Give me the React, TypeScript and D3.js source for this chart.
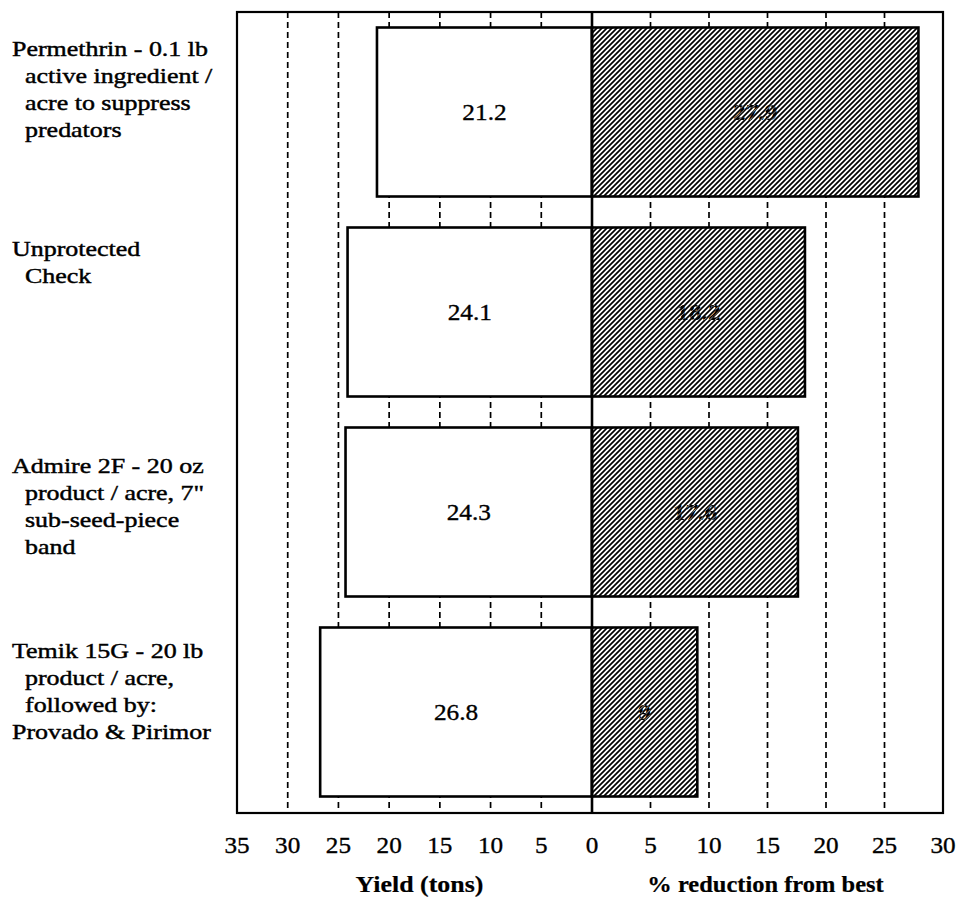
import React from "react";
import * as d3 from "d3";

const categories = [
  "Permethrin - 0.1 lb|  active ingredient /|  acre to suppress|  predators",
  "Unprotected|  Check",
  "Admire 2F - 20 oz|  product / acre, 7\"|  sub-seed-piece|  band",
  "Temik 15G - 20 lb|  product / acre,|  followed by:|Provado & Pirimor",
];
const yieldTons = [21.2, 24.1, 24.3, 26.8];
const pctReduction = [27.9, 18.2, 17.6, 9];
const yieldTicks = [35, 30, 25, 20, 15, 10, 5, 0];
const reductionTicks = [5, 10, 15, 20, 25, 30];
const yieldTitle = "Yield (tons)";
const reductionTitle = "% reduction from best";

const W = 963;
const H = 907;
const left = 237;
const mid = 592;
const right = 943;
const top = 12;
const bottom = 813;
const labelNudge = [0, 0, 17, 2];
const FONT = "'Liberation Serif', 'Times New Roman', serif";

type TProps = {
  x: number;
  y: number;
  sx?: number;
  size: number;
  anchor?: string;
  bold?: boolean;
  fill?: string;
  stroke?: number;
  children: React.ReactNode;
};

function T({ x, y, sx = 1.15, size, anchor = "start", bold = false, fill = "#000", stroke = 0.35, children }: TProps) {
  return (
    <text
      transform={`translate(${x},${y}) scale(${sx},1)`}
      textAnchor={anchor}
      fontSize={size}
      fontWeight={bold ? "bold" : "normal"}
      fill={fill}
      stroke={stroke > 0 ? "#000" : "none"}
      strokeWidth={stroke}
    >
      {children}
    </text>
  );
}

export default function App() {
  const xL = d3.scaleLinear().domain([0, 35]).range([mid, left]);
  const xR = d3.scaleLinear().domain([0, 30]).range([mid, right]);
  const y = d3
    .scaleBand<number>()
    .domain(d3.range(categories.length))
    .range([top, bottom - 1])
    .paddingInner(0.155)
    .paddingOuter(0.0775);

  const gridL = yieldTicks.filter((t) => t !== 0 && xL(t) > left + 2);
  const gridR = reductionTicks.filter((t) => xR(t) < right - 2);

  return (
    <svg
      width={W}
      height={H}
      style={{ position: "absolute", left: 0, top: 0, background: "#fff" }}
      fontFamily={FONT}
    >
      <defs>
        <pattern id="hatch" patternUnits="userSpaceOnUse" width="5" height="5">
          <rect width="5" height="5" fill="#fff" />
          <path d="M-1,6 L6,-1 M-1,1 L1,-1 M4,6 L6,4" stroke="#000" strokeWidth="1.7" />
        </pattern>
        <pattern id="texthatch" patternUnits="userSpaceOnUse" width="5" height="5">
          <rect width="5" height="5" fill="#000" />
          <path d="M-1,6 L6,-1 M-1,1 L1,-1 M4,6 L6,4" stroke="#fff" strokeWidth="0.6" />
        </pattern>
      </defs>
      <rect x={0} y={0} width={W} height={H} fill="#fff" />

      {gridL.map((t) => (
        <line key={"gl" + t} x1={xL(t)} x2={xL(t)} y1={top} y2={bottom} stroke="#000" strokeWidth={1.7} strokeDasharray="6,4" />
      ))}
      {gridR.map((t) => (
        <line key={"gr" + t} x1={xR(t)} x2={xR(t)} y1={top} y2={bottom} stroke="#000" strokeWidth={1.7} strokeDasharray="6,4" />
      ))}

      {categories.map((c, i) => {
        const by = y(i)!;
        const bh = y.bandwidth();
        const x0 = xL(yieldTons[i]);
        const x1 = xR(pctReduction[i]);
        return (
          <g key={"b" + i}>
            <rect x={x0} y={by} width={mid - x0} height={bh} fill="#fff" stroke="#000" strokeWidth={2.6} />
            <rect x={mid} y={by} width={x1 - mid} height={bh} fill="url(#hatch)" stroke="#000" strokeWidth={2.6} />
            <T x={(x0 + mid) / 2} y={by + bh / 2 + 8} size={23} anchor="middle" sx={1.1}>
              {String(yieldTons[i])}
            </T>
            <T x={(mid + x1) / 2} y={by + bh / 2 + 8} size={23} anchor="middle" sx={1.1} bold fill="url(#texthatch)" stroke={0}>
              {String(pctReduction[i])}
            </T>
          </g>
        );
      })}

      <rect x={left} y={top} width={right - left} height={bottom - top} fill="none" stroke="#000" strokeWidth={2.2} />
      <line x1={mid} x2={mid} y1={top} y2={bottom} stroke="#000" strokeWidth={2.6} />

      {categories.map((c, i) => {
        const lines = c.split("|");
        const by = y(i)!;
        return (
          <g key={"l" + i}>
            {lines.map((ln, j) => {
              const m = ln.match(/^ */);
              const sp = m ? m[0].length : 0;
              return (
                <T key={j} x={12 + sp * 6.5} y={by + 28 + labelNudge[i] + j * 27} size={22} sx={1.18} stroke={0.45}>
                  {ln.trimStart()}
                </T>
              );
            })}
          </g>
        );
      })}

      {yieldTicks.map((t) => (
        <T key={"tl" + t} x={xL(t)} y={bottom + 40} size={24} anchor="middle" sx={1.05}>
          {t}
        </T>
      ))}
      {reductionTicks.map((t) => (
        <T key={"tr" + t} x={xR(t)} y={bottom + 40} size={24} anchor="middle" sx={1.05}>
          {t}
        </T>
      ))}

      <T x={(left + mid) / 2 + 5} y={bottom + 79} size={24} anchor="middle" bold sx={1.08} stroke={0.2}>
        {yieldTitle}
      </T>
      <T x={(mid + right) / 2 - 2} y={bottom + 79} size={24} anchor="middle" bold sx={1.02} stroke={0.2}>
        {reductionTitle}
      </T>
    </svg>
  );
}
